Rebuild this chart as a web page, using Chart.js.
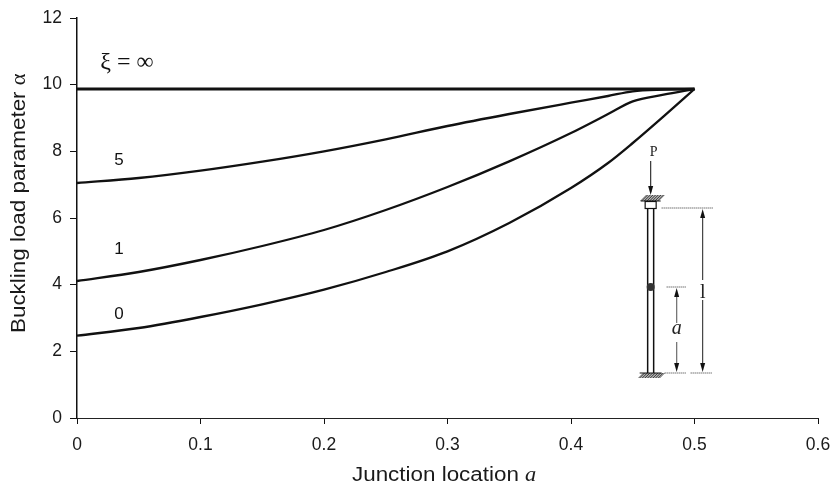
<!DOCTYPE html>
<html><head><meta charset="utf-8">
<style>html,body{margin:0;padding:0;background:#fff}#w{width:832px;height:485px}</style>
<script src="https://cdn.jsdelivr.net/npm/chart.js@4/dist/chart.umd.min.js"></script>
</head><body><div id="w"><canvas id="c" width="832" height="485"></canvas></div>
<script>
const junction = [0,0.05,0.1,0.15,0.2,0.25,0.3,0.35,0.4,0.43,0.45,0.475,0.5];
const xiInf  = [9.87,9.87,9.87,9.87,9.87,9.87,9.87,9.87,9.87,9.87,9.87,9.87,9.87];
const xi5    = [7.05,7.2,7.42,7.69,8.0,8.36,8.76,9.12,9.46,9.66,9.8,9.85,9.87];
const xi1    = [4.11,4.38,4.74,5.16,5.64,6.24,6.93,7.7,8.55,9.12,9.5,9.7,9.87];
const xi0    = [2.47,2.7,3.03,3.41,3.85,4.38,5.0,5.85,6.9,7.65,8.25,9.05,9.87];
const xTicks = [0,0.1,0.2,0.3,0.4,0.5,0.6];
const yTicks = [0,2,4,6,8,10,12];
const seriesLabels = ['ξ = ∞','5','1','0'];
const labelX = [0.0405,0.034,0.034,0.034];
const labelY = [10.65,7.74,5.05,3.12];
const xTitle = 'Junction location ';
const yTitle = 'Buckling load parameter ';
const FONT = '"Liberation Sans", Arial, sans-serif';
const SERIF = '"Liberation Serif", "DejaVu Serif", serif';
const toPts = v => junction.map((x,i)=>({x,y:v[i]}));
const ds = (label,v,w)=>({label,data:toPts(v),showLine:true,borderColor:'#111',borderWidth:w,pointRadius:0,cubicInterpolationMode:'monotone',fill:false});

const annot = {id:'annot',afterDatasetsDraw(ch){
  const c=ch.ctx,sx=ch.scales.x,sy=ch.scales.y;
  c.save();
  c.fillStyle='#111';c.textAlign='center';c.textBaseline='middle';
  seriesLabels.forEach((t,i)=>{
    c.font=i===0?'24px '+SERIF:'17px '+FONT;
    c.fillText(t,sx.getPixelForValue(labelX[i]),sy.getPixelForValue(labelY[i]));
  });
  // axis titles: the reference type is set wide, with a serif italic symbol at the end
  const stretched=(txt,sym,symFont,sx0,sy0,rot)=>{
    c.save();c.translate(sx0,sy0);c.rotate(rot);c.scale(1.12,1);
    c.fillStyle='#1a1a1a';c.textAlign='left';c.textBaseline='alphabetic';
    c.font='20px '+FONT;c.fillText(txt,0,0);
    const w=c.measureText(txt).width;
    c.font=symFont;c.fillText(sym,w,0);
    c.restore();
  };
  stretched(xTitle,'a','italic 20px '+SERIF,352,481,0);
  stretched(yTitle,'α','20px '+SERIF,25,333,-Math.PI/2);
  // inset column diagram, anchored to its axis position
  const ax=sx.getPixelForValue(0.4645), bot=sy.getPixelForValue(1.35), top=sy.getPixelForValue(6.3), pin=sy.getPixelForValue(3.93);
  const line=(a,b,d,e,col='#111',w=1,dash=[])=>{c.strokeStyle=col;c.lineWidth=w;c.setLineDash(dash);c.beginPath();c.moveTo(a,b);c.lineTo(d,e);c.stroke();c.setLineDash([]);};
  const tri=(x,y,dir)=>{c.fillStyle='#111';c.beginPath();c.moveTo(x,y);c.lineTo(x-2.5,y-dir*9);c.lineTo(x+2.5,y-dir*9);c.closePath();c.fill();};
  const hatch=(x0,x1,y0,y1)=>{for(let x=x0;x<x1;x+=1.6)line(x,y1,x+(y1-y0),y0,'#222',0.9);};
  line(ax,top-47,ax,top-16,'#333',1.2);tri(ax,top-13,1);
  hatch(ax-10,ax+9,top-13,top-7);
  line(ax-10,top-7,ax+10,top-7,'#111',1);
  c.strokeStyle='#111';c.lineWidth=1.2;c.strokeRect(ax-5.5,top-6.5,11,7);
  line(ax-3,top,ax-3,bot,'#111',1.5);line(ax+3,top,ax+3,bot,'#111',1.5);
  hatch(ax-12,ax+10,bot,bot+5);
  line(ax-11,bot,ax+11,bot,'#111',1);
  c.fillStyle='#333';c.beginPath();c.arc(ax,pin,4,0,Math.PI*2);c.fill();
  const dots=[1,1];
  line(ax+11,top,ax+62,top,'#333',1,dots);
  line(ax+16,pin,ax+35,pin,'#333',1,dots);
  line(ax+14,bot,ax+35,bot,'#333',1,dots);
  line(ax+40,bot,ax+62,bot,'#333',1,dots);
  const xa=ax+26, xl=ax+52;
  line(xa,pin+8,xa,pin+36,'#777',1.3);line(xa,pin+55,xa,bot-8,'#777',1.3);
  tri(xa,pin+1,-1);tri(xa,bot-1,1);
  line(xl,top+8,xl,pin-7,'#333',1.1);line(xl,pin+13,xl,bot-8,'#333',1.1);
  tri(xl,top+1,-1);tri(xl,bot-1,1);
  c.fillStyle='#222';c.textAlign='center';c.textBaseline='middle';
  c.font='italic 20px '+SERIF;c.fillText('a',xa,pin+42);
  c.font='20px '+SERIF;c.fillText('l',xl,pin+6);
  c.font='14px '+SERIF;c.fillText('P',ax+3,top-56);
  c.restore();
}};

new Chart(document.getElementById('c'),{
  type:'scatter',
  data:{datasets:[ds('ξ = ∞',xiInf,3),ds('5',xi5,2.3),ds('1',xi1,2.3),ds('0',xi0,2.3)]},
  plugins:[annot],
  options:{
    responsive:false,animation:false,
    layout:{padding:{top:18,right:14,left:0,bottom:0}},
    plugins:{legend:{display:false},tooltip:{enabled:false},title:{display:false}},
    scales:{
      x:{type:'linear',min:0,max:0.6,
        afterBuildTicks(a){a.ticks=xTicks.map(value=>({value}));},
        afterFit(a){a.height=67;a.paddingRight=0;a.paddingLeft=0;},
        border:{display:true,color:'#222',width:1,dash:[1,1]},
        grid:{drawOnChartArea:false,drawTicks:true,tickLength:6,color:'#111'},
        ticks:{color:'#1a1a1a',font:{family:FONT,size:17.5},padding:11,maxRotation:0,autoSkip:false,callback:v=>String(v)},
        title:{display:false}
      },
      y:{type:'linear',min:0,max:12,
        afterBuildTicks(a){a.ticks=yTicks.map(value=>({value}));},
        afterFit(a){a.width=77;a.paddingTop=0;a.paddingBottom=0;},
        border:{display:true,color:'#111',width:1.5},
        grid:{drawOnChartArea:false,drawTicks:true,tickLength:7,color:'#111'},
        ticks:{color:'#1a1a1a',font:{family:FONT,size:17.5},padding:8,callback:v=>String(v)},
        title:{display:false}
      }
    }
  }
});
</script></body></html>
